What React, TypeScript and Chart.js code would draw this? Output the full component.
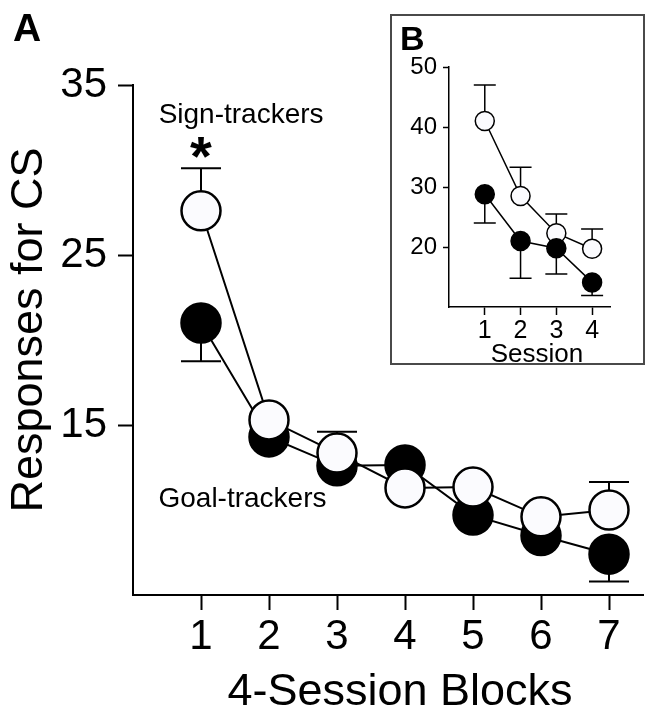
import React, { useEffect, useRef } from "react";
import { Chart, registerables } from "chart.js";

Chart.register(...registerables);

const FONT = "'Liberation Sans', Arial, Helvetica, sans-serif";

// ---- Panel A: 4-session blocks ----
const blocks = [1, 2, 3, 4, 5, 6, 7];
const signMean = [27.6, 15.3, 13.35, 11.3, 11.35, 9.6, 10.0];
const signSem = [2.5, 0.3, 1.25, 0.3, 0.3, 0.3, 1.65];
const goalMean = [21.0, 14.3, 12.6, 12.65, 9.7, 8.5, 7.4];
const goalSem = [2.25, 0.3, 0.3, 0.3, 0.3, 0.3, 1.6];
const mainYTicks = [15, 25, 35];

// ---- Panel B: sessions 1-4 ----
const sessions = [1, 2, 3, 4];
const insetSignMean = [41.0, 28.5, 22.3, 19.7];
const insetSignSem = [6.0, 4.8, 3.2, 3.3];
const insetGoalMean = [28.8, 21.0, 19.8, 14.1];
const insetGoalSem = [4.8, 6.2, 4.3, 2.2];
const insetYTicks = [20, 30, 40, 50];

const WHITE = "#fbfbfe";

function makeErrorBars(width: number, cap: number) {
  return {
    id: "errorBars",
    beforeDatasetsDraw(chart: any) {
      const ctx = chart.ctx;
      const xs = chart.scales.x;
      const ys = chart.scales.y;
      chart.data.datasets.forEach((ds: any) => {
        if (!ds.errors) return;
        ctx.save();
        ctx.strokeStyle = "#000";
        ctx.lineWidth = width;
        ds.data.forEach((p: any, j: number) => {
          const e = ds.errors[j];
          const x = xs.getPixelForValue(p.x);
          const y0 = ys.getPixelForValue(p.y);
          const y1 = ys.getPixelForValue(p.y + ds.errorDir * e);
          ctx.beginPath();
          ctx.moveTo(x, y0);
          ctx.lineTo(x, y1);
          ctx.moveTo(x - cap, y1);
          ctx.lineTo(x + cap, y1);
          ctx.stroke();
        });
        ctx.restore();
      });
    },
  };
}

type Label = { text: string; x: number; y: number; size: number; bold?: boolean; centerGlyph?: boolean };

const mainLabels: Label[] = [
  { text: "Sign-trackers", x: 1.59, y: 32.76, size: 28 },
  { text: "Goal-trackers", x: 1.61, y: 10.18, size: 28 },
  { text: "*", x: 1, y: 31.35, size: 56, bold: true, centerGlyph: true },
];

function makeAnnotations(labels: Label[], extra: (chart: any, ctx: CanvasRenderingContext2D) => void) {
  return {
    id: "annotations",
    afterDraw(chart: any) {
      const ctx: CanvasRenderingContext2D = chart.ctx;
      const xs = chart.scales.x;
      const ys = chart.scales.y;
      ctx.save();
      ctx.fillStyle = "#000";
      labels.forEach((l) => {
        ctx.font = `${l.bold ? "bold " : ""}${l.size}px ${FONT}`;
        ctx.textAlign = "center";
        ctx.textBaseline = "alphabetic";
        const px = xs.getPixelForValue(l.x);
        let py = ys.getPixelForValue(l.y);
        if (l.centerGlyph) {
          const m = ctx.measureText(l.text);
          py = py + (m.actualBoundingBoxAscent - m.actualBoundingBoxDescent) / 2;
        }
        ctx.fillText(l.text, px, py);
      });
      extra(chart, ctx);
      ctx.restore();
    },
  };
}

function axisCommon(tickLength: number, width: number, size: number, padding: number) {
  return {
    grid: { drawOnChartArea: false, drawTicks: true, tickLength, tickWidth: width, tickColor: "#000" },
    border: { display: true, color: "#000", width },
    ticks: { color: "#000", font: { family: FONT, size }, padding, autoSkip: false, maxRotation: 0 },
  };
}

export default function App() {
  const mainRef = useRef<HTMLCanvasElement>(null);
  const insetRef = useRef<HTMLCanvasElement>(null);

  useEffect(() => {
    if (!mainRef.current || !insetRef.current) return;

    const main = new Chart(mainRef.current, {
      type: "line",
      data: {
        datasets: [
          {
            label: "Sign-trackers",
            data: blocks.map((b, i) => ({ x: b, y: signMean[i] })),
            errors: signSem,
            errorDir: 1,
            borderColor: "#000",
            borderWidth: 2,
            pointRadius: 19.5,
            pointBorderWidth: 2.5,
            pointBackgroundColor: WHITE,
            pointBorderColor: "#000",
            tension: 0,
            clip: false,
          } as any,
          {
            label: "Goal-trackers",
            data: blocks.map((b, i) => ({ x: b, y: goalMean[i] })),
            errors: goalSem,
            errorDir: -1,
            borderColor: "#000",
            borderWidth: 2,
            pointRadius: 19.5,
            pointBorderWidth: 2.5,
            pointBackgroundColor: "#000",
            pointBorderColor: "#000",
            tension: 0,
            clip: false,
          } as any,
        ],
      },
      options: {
        responsive: false,
        animation: false,
        events: [],
        layout: { autoPadding: false, padding: { left: 0, top: 85, right: 8, bottom: 0 } },
        plugins: { legend: { display: false }, tooltip: { enabled: false } },
        scales: {
          x: {
            type: "linear",
            min: 0,
            max: 7.5,
            afterBuildTicks: (s: any) => {
              s.ticks = blocks.map((v) => ({ value: v }));
            },
            afterFit: (s: any) => {
              s.height = 118;
              s.paddingLeft = 0;
              s.paddingRight = 0;
            },
            ...axisCommon(15, 2, 42, 2),
          } as any,
          y: {
            type: "linear",
            min: 5,
            max: 35,
            afterBuildTicks: (s: any) => {
              s.ticks = mainYTicks.map((v) => ({ value: v }));
            },
            afterFit: (s: any) => {
              s.width = 133;
            },
            ...axisCommon(15, 2, 42, 11),
          } as any,
        },
      },
      plugins: [
        makeErrorBars(2, 20),
        makeAnnotations(mainLabels, (chart, ctx) => {
          ctx.textAlign = "left";
          ctx.font = `bold 39px ${FONT}`;
          ctx.fillText("A", 13, 41);
          ctx.textAlign = "center";
          ctx.font = `45px ${FONT}`;
          ctx.fillText("4-Session Blocks", 400, 705);
          ctx.save();
          ctx.translate(42, 330);
          ctx.rotate(-Math.PI / 2);
          ctx.font = `45px ${FONT}`;
          ctx.fillText("Responses for CS", 0, 0);
          ctx.restore();
        }),
      ],
    } as any);

    const inset = new Chart(insetRef.current, {
      type: "line",
      data: {
        datasets: [
          {
            label: "Goal-trackers",
            data: sessions.map((b, i) => ({ x: b, y: insetGoalMean[i] })),
            errors: insetGoalSem,
            errorDir: -1,
            borderColor: "#000",
            borderWidth: 1.5,
            pointRadius: 9.5,
            pointBorderWidth: 1.5,
            pointBackgroundColor: "#000",
            pointBorderColor: "#000",
            tension: 0,
            clip: false,
          } as any,
          {
            label: "Sign-trackers",
            data: sessions.map((b, i) => ({ x: b, y: insetSignMean[i] })),
            errors: insetSignSem,
            errorDir: 1,
            borderColor: "#000",
            borderWidth: 1.5,
            pointRadius: 9.5,
            pointBorderWidth: 1.5,
            pointBackgroundColor: WHITE,
            pointBorderColor: "#000",
            tension: 0,
            clip: false,
          } as any,
        ],
      },
      options: {
        responsive: false,
        animation: false,
        events: [],
        layout: { autoPadding: false, padding: { left: 0, top: 51, right: 33, bottom: 0 } },
        plugins: { legend: { display: false }, tooltip: { enabled: false } },
        scales: {
          x: {
            type: "linear",
            min: 0,
            max: 4.5,
            afterBuildTicks: (s: any) => {
              s.ticks = sessions.map((v) => ({ value: v }));
            },
            afterFit: (s: any) => {
              s.height = 56;
              s.paddingLeft = 0;
              s.paddingRight = 0;
            },
            ...axisCommon(8, 1.5, 25, 1),
          } as any,
          y: {
            type: "linear",
            min: 10,
            max: 50,
            afterBuildTicks: (s: any) => {
              s.ticks = insetYTicks.map((v) => ({ value: v }));
            },
            afterFit: (s: any) => {
              s.width = 57;
            },
            ...axisCommon(6, 1.5, 24, 6),
          } as any,
        },
      },
      plugins: [
        makeErrorBars(1.5, 11),
        makeAnnotations([], (chart, ctx) => {
          ctx.textAlign = "left";
          ctx.font = `bold 34px ${FONT}`;
          ctx.fillText("B", 8, 34);
          ctx.textAlign = "center";
          ctx.font = `26px ${FONT}`;
          ctx.fillText("Session", 145, 346);
        }),
      ],
    } as any);

    return () => {
      main.destroy();
      inset.destroy();
    };
  }, []);

  return (
    <div style={{ position: "absolute", left: 0, top: 0, width: 651, height: 713, background: "#fff" }}>
      <canvas ref={mainRef} width={651} height={713} style={{ position: "absolute", left: 0, top: 0, width: 651, height: 713 }} />
      <div
        style={{
          position: "absolute",
          left: 390,
          top: 14,
          width: 255,
          height: 351,
          border: "2px solid #4a4a4a",
          boxSizing: "border-box",
          background: "#fff",
        }}
      >
        <canvas ref={insetRef} width={251} height={347} style={{ display: "block", width: 251, height: 347 }} />
      </div>
    </div>
  );
}
